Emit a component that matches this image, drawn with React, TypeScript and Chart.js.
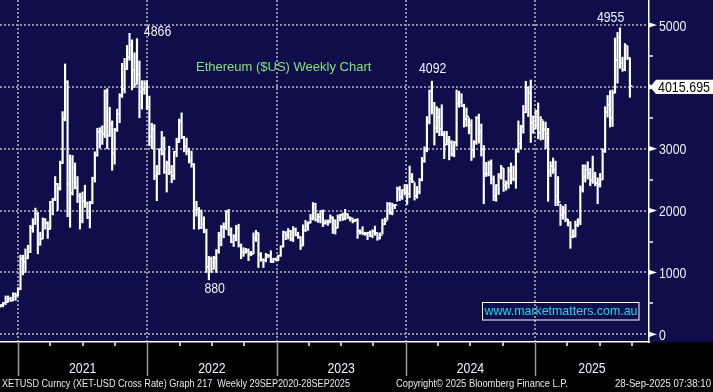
import { useEffect, useRef } from 'react';
import { Chart, registerables } from 'chart.js';

Chart.register(...registerables);

// ---------- DATA (weekly bars, week ending Friday, first week ends 2 Oct 2020) ----------
const firstWeekEnd = '2020-10-02';
const firstOpen = 340;

const weeklyClose = [
  // 2020
  350, 367, 366, 410, 385, 455, 475, 510, 520, 570, 545, 650, 625,
  // 2021
  730, 1220, 1170, 1230, 1330, 1720, 1780, 1940, 1450, 1540, 1860, 1800, 1700, 2140, 2170, 2430, 2360, 2770,
  3480, 4080, 2430, 2280, 2690, 2370, 2230, 1830, 2150, 2120, 1890, 2120, 2530, 2890, 3270, 3280, 3240,
  3930, 3210, 3400, 2930, 3310, 3560, 3860, 3970, 4290, 4480, 4680, 4270, 4040, 4200, 3920, 3960, 4050, 3680,
  // 2022
  3200, 3310, 2560, 2600, 2990, 2920, 2620, 2770, 2620, 2560, 2950, 3110, 3450, 3190, 3040, 2960, 2810, 2750,
  2010, 2020, 1720, 1780, 1660, 1090, 1220, 1060, 1230, 1350, 1600, 1730, 1730, 1980, 1610, 1490, 1580, 1720,
  1440, 1330, 1330, 1350, 1300, 1300, 1560, 1640, 1290, 1210, 1200, 1280, 1270, 1170, 1220, 1200,
  // 2023
  1270, 1420, 1650, 1600, 1670, 1550, 1690, 1600, 1570, 1430, 1680, 1750, 1800, 1870, 2100, 1850, 1900, 1990,
  1790, 1810, 1820, 1890, 1840, 1720, 1890, 1930, 1870, 1940, 1890, 1870, 1830, 1850, 1670, 1650, 1630, 1630,
  1640, 1590, 1670, 1640, 1550, 1600, 1780, 1830, 2110, 1960, 2080, 2090, 2350, 2220, 2330, 2300,
  // 2024
  2270, 2520, 2470, 2240, 2300, 2490, 2800, 2970, 3440, 3930, 3740, 3330, 3510, 3320, 3230, 3070, 3130, 3100,
  2910, 3100, 3730, 3760, 3690, 3480, 3520, 3380, 2980, 3110, 3500, 3280, 2990, 2600, 2590, 2770, 2510, 2230,
  2410, 2560, 2690, 2410, 2440, 2640, 2520, 2510, 2960, 3080, 3350, 3590, 3990, 3910, 3420, 3330,
  // 2025
  3610, 3260, 3470, 3310, 3240, 2630, 2720, 2660, 2240, 2140, 1930, 1970, 1860, 1810, 1570, 1590, 1770, 1840,
  2340, 2550, 2660, 2600, 2490, 2550, 2440, 2420, 2500, 2960, 3590, 3710, 3500, 3900, 4430, 4800, 4380, 4280,
  4670, 4470, 4015.695,
];

const weeklyHigh = [
  // 2020
  360, 370, 385, 420, 418, 460, 480, 515, 620, 620, 600, 670, 670,
  // 2021
  755, 1280, 1280, 1380, 1440, 1760, 1870, 2040, 1970, 1650, 1880, 1870, 1820, 2150, 2200, 2550, 2440, 2800,
  3600, 4370, 4100, 2900, 2890, 2770, 2550, 2280, 2300, 2410, 2140, 2150, 2540, 2950, 3330, 3340, 3370,
  3950, 3970, 3670, 3450, 3330, 3640, 3890, 4380, 4460, 4670, 4866, 4760, 4550, 4780, 4420, 4100, 4100, 4100,
  // 2022
  3850, 3410, 3390, 2730, 3000, 3280, 3190, 2800, 3040, 2730, 2960, 3170, 3480, 3580, 3200, 3170, 3010, 2960,
  2760, 2150, 2050, 2010, 1900, 1700, 1260, 1250, 1260, 1370, 1650, 1760, 1800, 2000, 2020, 1720, 1610, 1760,
  1780, 1460, 1400, 1390, 1380, 1340, 1640, 1680, 1640, 1320, 1220, 1310, 1290, 1350, 1230, 1230,
  // 2023
  1280, 1430, 1670, 1660, 1710, 1680, 1740, 1720, 1650, 1580, 1770, 1840, 1820, 1940, 2130, 2120, 1950, 2000,
  2010, 1850, 1850, 1930, 1900, 1850, 1930, 1940, 1960, 2020, 1950, 1900, 1880, 1860, 1870, 1690, 1740, 1650,
  1650, 1670, 1690, 1750, 1640, 1640, 1860, 1880, 2130, 2130, 2120, 2100, 2380, 2390, 2340, 2420,
  // 2024
  2420, 2720, 2600, 2450, 2390, 2520, 2860, 3030, 3520, 3950, 4092, 3750, 3680, 3650, 3710, 3280, 3280, 3200,
  3130, 3120, 3950, 3930, 3890, 3720, 3660, 3500, 3470, 3130, 3520, 3560, 3400, 3050, 2780, 2800, 2820, 2560,
  2420, 2600, 2730, 2680, 2480, 2700, 2770, 2720, 3000, 3450, 3380, 3700, 4090, 4000, 4110, 3530,
  // 2025
  3620, 3740, 3520, 3450, 3430, 3330, 2790, 2850, 2800, 2550, 2100, 2070, 2100, 1860, 1820, 1690, 1830, 1870,
  2400, 2740, 2740, 2790, 2680, 2880, 2620, 2530, 2600, 3000, 3680, 3860, 3940, 3950, 4790, 4880, 4955, 4480,
  4700, 4660, 4470,
];

const weeklyLow = [
  // 2020
  335, 340, 360, 360, 373, 375, 440, 445, 480, 520, 530, 540, 550,
  // 2021
  625, 720, 960, 1000, 1220, 1320, 1650, 1780, 1300, 1440, 1540, 1700, 1550, 1700, 1930, 2160, 2000, 2330,
  2760, 3450, 1900, 1730, 2250, 2350, 2130, 1700, 1800, 2050, 1870, 1720, 2110, 2460, 2880, 3010, 3070,
  3180, 3000, 3200, 2650, 2750, 3280, 3420, 3830, 3900, 4280, 4430, 3950, 3990, 4040, 3500, 3640, 3880, 3630,
  // 2022
  3050, 3000, 2500, 2160, 2580, 2900, 2600, 2300, 2580, 2450, 2500, 2870, 3100, 3160, 2950, 2900, 2770, 2700,
  1700, 1910, 1700, 1710, 1640, 1000, 880, 1000, 1050, 1000, 1310, 1430, 1560, 1690, 1600, 1480, 1420, 1510,
  1410, 1220, 1260, 1310, 1190, 1270, 1300, 1500, 1080, 1180, 1080, 1170, 1240, 1160, 1160, 1190,
  // 2023
  1190, 1260, 1410, 1530, 1540, 1510, 1500, 1590, 1550, 1370, 1430, 1660, 1680, 1800, 1850, 1830, 1810, 1800,
  1740, 1780, 1760, 1800, 1630, 1620, 1720, 1830, 1840, 1850, 1870, 1830, 1800, 1820, 1550, 1620, 1610, 1600,
  1530, 1580, 1560, 1600, 1520, 1540, 1620, 1770, 1850, 1940, 1930, 2030, 2150, 2160, 2180, 2250,
  // 2024
  2100, 2210, 2450, 2170, 2200, 2270, 2480, 2780, 2950, 3400, 3560, 3060, 3260, 3210, 3210, 2840, 3060, 2820,
  2880, 2870, 3040, 3670, 3680, 3350, 3360, 3240, 2810, 2860, 3070, 3090, 2880, 2110, 2550, 2560, 2430, 2160,
  2150, 2260, 2510, 2310, 2330, 2360, 2430, 2480, 2360, 2940, 3000, 3250, 3580, 3520, 3100, 3250,
  // 2025
  3320, 3160, 3140, 3150, 3000, 2150, 2550, 2600, 2080, 2080, 1760, 1860, 1820, 1750, 1390, 1560, 1570, 1740,
  1770, 2300, 2460, 2510, 2400, 2440, 2400, 2110, 2380, 2500, 2940, 3510, 3350, 3360, 3900, 4060, 4300, 4250,
  4260, 4440, 3830,
];

const yearLabels = ['2021', '2022', '2023', '2024', '2025'];
const priceTicks = [0, 1000, 2000, 3000, 4000, 5000];
const minorPriceTicks = [500, 1500, 2500, 3500, 4500];
const peakLabels = [
  { text: '4866', value: 4866, kind: 'high' },
  { text: '880', value: 880, kind: 'low' },
  { text: '4092', value: 4092, kind: 'high' },
  { text: '4955', value: 4955, kind: 'high' },
];
const lastPrice = 4015.695;
const titleText = 'Ethereum ($US) Weekly Chart';
const watermarkText = 'www.marketmatters.com.au';
const footerLeft = 'XETUSD Curncy (XET-USD Cross Rate) Graph 217  Weekly 29SEP2020-28SEP2025';
const footerMid = 'Copyright\u00A9 2025 Bloomberg Finance L.P.';
const footerRight = '28-Sep-2025 07:38:10';

// ---------- LAYOUT / STYLE ----------
const W = 713;
const H = 392;
const PLOT_RIGHT = 649;
const PLOT_BOTTOM = 342;
const PX_PER_YEAR = 129.25;
const X_MIN = 2021 - 18 / PX_PER_YEAR;
const X_MAX = 2021 + (PLOT_RIGHT - 18) / PX_PER_YEAR;
const Y_MIN = -124.5;
const Y_MAX = 5404;
const NAVY = '#0f0e4b';
const GRID = '#8e8e9e';
const LABEL = '#eef0ff';
const SANS = "'Liberation Sans', Arial, sans-serif";
const NARROW_SCALE = 0.82;
// [dx, dy] of the label centre/baseline relative to the bar extreme
const labelOffsets: Record<string, [number, number]> = {
  '4866': [28, 2.7],
  '880': [5.8, 12.8],
  '4092': [0.8, -8.5],
  '4955': [-9.4, -6.1],
};

function yearFraction(ms: number) {
  const y = new Date(ms).getUTCFullYear();
  const s = Date.UTC(y, 0, 1);
  const e = Date.UTC(y + 1, 0, 1);
  return y + (ms - s) / (e - s);
}

function fitText(ctx: CanvasRenderingContext2D, text: string, x: number, y: number, width: number) {
  const w = ctx.measureText(text).width;
  ctx.save();
  ctx.translate(x, y);
  ctx.scale(width / w, 1);
  ctx.fillText(text, 0, 0);
  ctx.restore();
}

// condensed 15px label text, baseline at y
function narrowText(ctx: CanvasRenderingContext2D, text: string, x: number, y: number, align: 'left' | 'center') {
  ctx.save();
  ctx.font = `15px ${SANS}`;
  ctx.textAlign = 'left';
  ctx.textBaseline = 'alphabetic';
  const w = ctx.measureText(text).width * NARROW_SCALE;
  const left = align === 'center' ? x - w / 2 : x;
  ctx.translate(left, y);
  ctx.scale(NARROW_SCALE, 1);
  ctx.fillText(text, 0, 0);
  ctx.restore();
}

function zeroPadding(scale: any) {
  scale.paddingTop = 0;
  scale.paddingBottom = 0;
  scale.paddingLeft = 0;
  scale.paddingRight = 0;
}

export default function App() {
  const ref = useRef<HTMLCanvasElement | null>(null);

  useEffect(() => {
    const canvas = ref.current;
    if (!canvas) return;
    const t0 = Date.parse(firstWeekEnd + 'T00:00:00Z');
    const times = weeklyClose.map((_, i) => yearFraction(t0 + i * 7 * 86400000));
    const opens = weeklyClose.map((_, i) => (i === 0 ? firstOpen : weeklyClose[i - 1]));
    const bars = times.map((t, i) => ({ x: t, y: [weeklyLow[i], weeklyHigh[i]] }));

    const bgPlugin = {
      id: 'bgPlugin',
      beforeDraw(chart: any) {
        const { ctx, chartArea } = chart;
        ctx.save();
        ctx.fillStyle = '#000';
        ctx.fillRect(0, 0, chart.width, chart.height);
        ctx.fillStyle = NAVY;
        ctx.fillRect(0, 0, chart.width, chartArea.bottom);
        ctx.restore();
      },
    };

    const ohlcPlugin = {
      id: 'ohlcPlugin',
      afterDatasetsDraw(chart: any) {
        const { ctx, chartArea: a, scales } = chart;
        const xs = scales.x;
        const ys = scales.y;
        ctx.save();
        ctx.beginPath();
        ctx.rect(a.left, a.top, a.right - a.left, a.bottom - a.top);
        ctx.clip();
        ctx.strokeStyle = '#ffffff';
        ctx.lineWidth = 1.5;
        ctx.beginPath();
        times.forEach((t, i) => {
          const px = xs.getPixelForValue(t);
          const yo = ys.getPixelForValue(opens[i]);
          const yc = ys.getPixelForValue(weeklyClose[i]);
          ctx.moveTo(px - 2.5, yo);
          ctx.lineTo(px, yo);
          ctx.moveTo(px, yc);
          ctx.lineTo(px + 2.5, yc);
        });
        ctx.stroke();
        ctx.restore();
      },
    };

    const decorPlugin = {
      id: 'decorPlugin',
      afterDraw(chart: any) {
        const { ctx, chartArea: a, scales } = chart;
        const xs = scales.x;
        const ys = scales.y;
        ctx.save();

        // year separators below the axis
        ctx.strokeStyle = '#9a9a9a';
        ctx.lineWidth = 1.5;
        yearLabels.forEach((yl) => {
          const px = Math.round(xs.getPixelForValue(Number(yl))) + 0.5;
          ctx.beginPath();
          ctx.moveTo(px, a.bottom + 1);
          ctx.lineTo(px, a.bottom + 34);
          ctx.stroke();
        });

        // x axis year labels (positions come from the scale's ticks)
        ctx.fillStyle = LABEL;
        xs.ticks.forEach((tk: any) => {
          if (tk.kind !== 'label') return;
          narrowText(ctx, tk.lbl, xs.getPixelForValue(tk.value), 373.3, 'center');
        });

        // y axis labels and triangles
        priceTicks.forEach((v) => {
          const py = ys.getPixelForValue(v);
          ctx.fillStyle = '#ffffff';
          ctx.beginPath();
          ctx.moveTo(a.right, py - 2.6);
          ctx.lineTo(a.right + 8, py);
          ctx.lineTo(a.right, py + 2.6);
          ctx.closePath();
          ctx.fill();
          ctx.fillStyle = LABEL;
          narrowText(ctx, String(v), a.right + 10, py + 5.6, 'left');
        });

        // peak / trough labels
        ctx.fillStyle = LABEL;
        peakLabels.forEach((p) => {
          const idx = p.kind === 'high' ? weeklyHigh.indexOf(p.value) : weeklyLow.indexOf(p.value);
          if (idx < 0) return;
          const px = xs.getPixelForValue(times[idx]);
          const py = ys.getPixelForValue(p.value);
          const [dx, dy] = labelOffsets[p.text];
          narrowText(ctx, p.text, px + dx, py + dy, 'center');
        });

        // title
        ctx.font = `13px ${SANS}`;
        ctx.fillStyle = '#80e47f';
        ctx.textAlign = 'left';
        ctx.textBaseline = 'middle';
        ctx.fillText(titleText, 196, 67);

        // watermark box
        ctx.strokeStyle = '#ffffff';
        ctx.lineWidth = 1;
        ctx.strokeRect(482.5, 302.5, 156.5, 17.5);
        ctx.font = `12.4px ${SANS}`;
        ctx.fillStyle = '#1ad6f0';
        ctx.textAlign = 'center';
        ctx.fillText(watermarkText, 561, 312);

        // last price tag
        const ly = ys.getPixelForValue(lastPrice) + 1;
        ctx.fillStyle = '#ffffff';
        ctx.beginPath();
        ctx.moveTo(a.right + 1, ly);
        ctx.lineTo(a.right + 7, ly - 7.2);
        ctx.lineTo(W, ly - 7.2);
        ctx.lineTo(W, ly + 7.2);
        ctx.lineTo(a.right + 7, ly + 7.2);
        ctx.closePath();
        ctx.fill();
        ctx.font = `15px ${SANS}`;
        ctx.fillStyle = '#000000';
        ctx.textAlign = 'left';
        ctx.textBaseline = 'alphabetic';
        fitText(ctx, lastPrice.toFixed(3), 658, ly + 4.8, 52);

        // footer
        ctx.font = `11px ${SANS}`;
        ctx.fillStyle = '#e8e8e8';
        ctx.textAlign = 'left';
        ctx.textBaseline = 'middle';
        fitText(ctx, footerLeft, 2, 384, 348);
        fitText(ctx, footerMid, 396, 384, 172);
        fitText(ctx, footerRight, 615, 384, 96);

        ctx.restore();
      },
    };

    const chart = new Chart(canvas, {
      type: 'bar',
      data: {
        datasets: [
          {
            data: bars as any,
            backgroundColor: '#ffffff',
            borderWidth: 0,
            barThickness: 1.5,
            grouped: false,
            clip: 0,
          } as any,
        ],
      },
      options: {
        responsive: false,
        animation: false,
        devicePixelRatio: 1,
        events: [],
        layout: { padding: 0 },
        plugins: { legend: { display: false }, tooltip: { enabled: false } },
        scales: {
          x: {
            type: 'linear',
            min: X_MIN,
            max: X_MAX,
            offset: false,
            afterBuildTicks: (scale: any) => {
              const list: any[] = [];
              for (let y = 2020; y <= 2026; y++) {
                [0, 0.25, 0.5, 0.75].forEach((q) => {
                  const v = y + q;
                  if (v >= X_MIN && v <= X_MAX) list.push({ value: v, kind: q === 0 ? 'year' : 'q', lbl: '' });
                });
              }
              yearLabels.forEach((l) => {
                const y = Number(l);
                const s = Math.max(y, X_MIN);
                const e = Math.min(y + 1, X_MAX);
                list.push({ value: (s + e) / 2, kind: 'label', lbl: l });
              });
              list.sort((p, q) => p.value - q.value);
              scale.ticks = list;
            },
            afterFit: (scale: any) => {
              scale.height = H - PLOT_BOTTOM;
              zeroPadding(scale);
            },
            grid: {
              offset: false,
              color: (c: any) => (c.tick && c.tick.kind === 'year' ? GRID : 'rgba(0,0,0,0)'),
              lineWidth: 2,
              drawTicks: true,
              tickLength: 4,
              tickWidth: 1.5,
              tickColor: (c: any) => (c.tick && c.tick.kind === 'q' ? '#ffffff' : 'rgba(0,0,0,0)'),
              tickBorderDash: [],
            },
            border: { color: '#ffffff', width: 1.5, dash: [2, 2] },
            ticks: { display: false, autoSkip: false, maxRotation: 0, minRotation: 0 },
          },
          y: {
            type: 'linear',
            position: 'right',
            min: Y_MIN,
            max: Y_MAX,
            afterBuildTicks: (scale: any) => {
              scale.ticks = [...priceTicks, ...minorPriceTicks]
                .sort((p, q) => p - q)
                .map((v) => ({ value: v }));
            },
            afterFit: (scale: any) => {
              scale.width = W - PLOT_RIGHT;
              zeroPadding(scale);
            },
            grid: {
              color: (c: any) => (c.tick && priceTicks.includes(c.tick.value) ? GRID : 'rgba(0,0,0,0)'),
              lineWidth: 2,
              drawTicks: true,
              tickLength: 4,
              tickWidth: 1.5,
              tickColor: '#ffffff',
              tickBorderDash: [],
            },
            border: { color: '#ffffff', width: 1.5, dash: [2, 2] },
            ticks: { display: false },
          },
        },
      } as any,
      plugins: [bgPlugin, ohlcPlugin, decorPlugin],
    });

    return () => chart.destroy();
  }, []);

  return (
    <div style={{ position: 'fixed', left: 0, top: 0, width: W, height: H, background: '#000' }}>
      <canvas ref={ref} width={W} height={H} style={{ display: 'block', width: W, height: H }} />
    </div>
  );
}
